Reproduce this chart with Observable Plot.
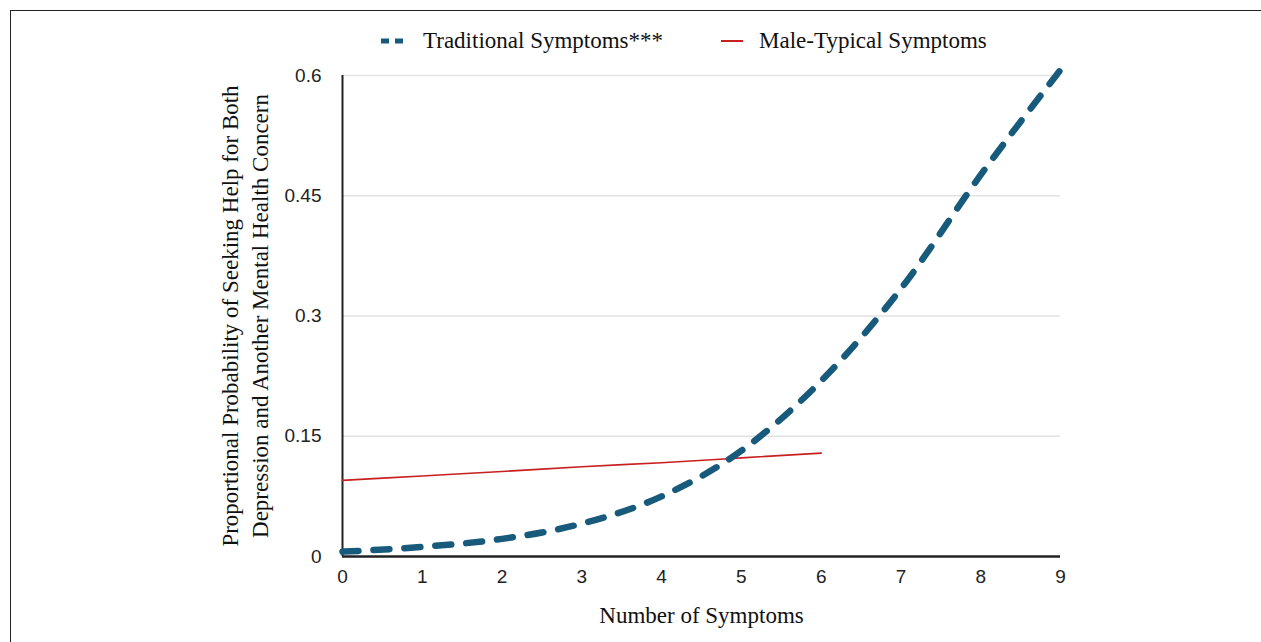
<!DOCTYPE html>
<html>
<head>
<meta charset="utf-8">
<script src="https://cdn.jsdelivr.net/npm/d3@7"></script>
<script src="https://cdn.jsdelivr.net/npm/@observablehq/plot@0.6"></script>
<style>
  html, body { margin: 0; padding: 0; background: #fff; overflow: hidden; width: 1261px; height: 642px; }
  #frame { position: absolute; left: 10px; top: 10px; width: 1300px; height: 700px; border-top: 1.5px solid #222; border-left: 1.5px solid #222; }
  #legend { position: absolute; left: 381px; top: 25px; height: 32px; display: flex; align-items: center; font-family: "Liberation Serif", "Times New Roman", serif; font-size: 23px; color: #111; white-space: nowrap; }
  #legend .item { display: flex; align-items: center; }
  #legend svg { display: block; }
  #chart { position: absolute; left: 0; top: 60px; }
</style>
</head>
<body>
<div id="frame"></div>
<div id="legend"></div>
<div id="chart"></div>
<script>
// ---- Data ----
const seriesNames = ["Traditional Symptoms***", "Male-Typical Symptoms"];
const seriesColors = ["#175a7c", "#c8201f"];
const symptomsTraditional = [0, 1, 2, 3, 4, 5, 6, 7, 8, 9];
const traditional = [0.006, 0.012, 0.022, 0.041, 0.075, 0.132, 0.219, 0.334, 0.476, 0.607];
const symptomsMale = [0, 1, 2, 3, 4, 5, 6];
const maleTypical = [0.095, 0.1005, 0.106, 0.112, 0.117, 0.123, 0.129];
const xTicks = [0, 1, 2, 3, 4, 5, 6, 7, 8, 9];
const yTicks = [0, 0.15, 0.3, 0.45, 0.6];
const yTickLabels = ["0", "0.15", "0.3", "0.45", "0.6"];
const xTitle = "Number of Symptoms";
const yTitle = ["Proportional Probability of Seeking Help for Both", "Depression and Another Mental Health Concern"];

const tradData = symptomsTraditional.map((s, i) => ({x: s, y: traditional[i]}));
const maleData = symptomsMale.map((s, i) => ({x: s, y: maleTypical[i]}));

// ---- Legend ----
const legend = document.getElementById("legend");
legend.innerHTML = `
  <div class="item">
    <svg width="24" height="10"><line x1="0" y1="5" x2="24" y2="5" stroke="${seriesColors[0]}" stroke-width="5" stroke-dasharray="8,6"/></svg>
    <span style="margin-left:18px">${seriesNames[0]}</span>
  </div>
  <div class="item" style="margin-left:58px">
    <svg width="22" height="10"><line x1="0" y1="5" x2="22" y2="5" stroke="${seriesColors[1]}" stroke-width="2"/></svg>
    <span style="margin-left:16px">${seriesNames[1]}</span>
  </div>`;

// ---- Chart ----
const serif = "'Liberation Serif', 'Times New Roman', serif";
const chart = Plot.plot({
  width: 1261,
  height: 582,
  marginTop: 15,
  marginBottom: 86,
  marginLeft: 342,
  marginRight: 201,
  style: { fontFamily: "'Liberation Sans', Arial, sans-serif", fontSize: "19px", color: "#222", background: "transparent" },
  x: { domain: [0, 9], ticks: xTicks, label: null },
  y: { domain: [0, 0.6], ticks: yTicks, label: null },
  marks: [
    Plot.gridY(yTicks.filter(d => d > 0), { stroke: "#e2e2e2", strokeOpacity: 1, strokeWidth: 1.5 }),
    Plot.axisX({ ticks: xTicks, tickSize: 0, tickPadding: 13, label: null, fontSize: 19 }),
    Plot.axisY({ ticks: yTicks, tickSize: 0, tickPadding: 21, label: null, tickFormat: (d) => yTickLabels[yTicks.indexOf(d)], fontSize: 19 }),
    Plot.ruleX([0], { stroke: "#222", strokeWidth: 2 }),
    Plot.ruleY([0], { stroke: "#222", strokeWidth: 2.5 }),
    Plot.line(maleData, { x: "x", y: "y", stroke: seriesColors[1], strokeWidth: 1.6, curve: "monotone-x" }),
    Plot.line(tradData, { x: "x", y: "y", stroke: seriesColors[0], strokeWidth: 6.5, strokeDasharray: "16,15", curve: "monotone-x" }),
    Plot.text([xTitle], { frameAnchor: "bottom", dy: 59, lineAnchor: "middle", text: d => d, fontFamily: serif, fontSize: 23, fill: "#111" }),
    Plot.text([yTitle.join("\n")], { frameAnchor: "left", textAnchor: "middle", lineAnchor: "middle", dx: -99, rotate: -90, text: d => d, lineHeight: 1.3, fontFamily: serif, fontSize: 23, fill: "#111" })
  ]
});
document.getElementById("chart").appendChild(chart);
</script>
</body>
</html>
